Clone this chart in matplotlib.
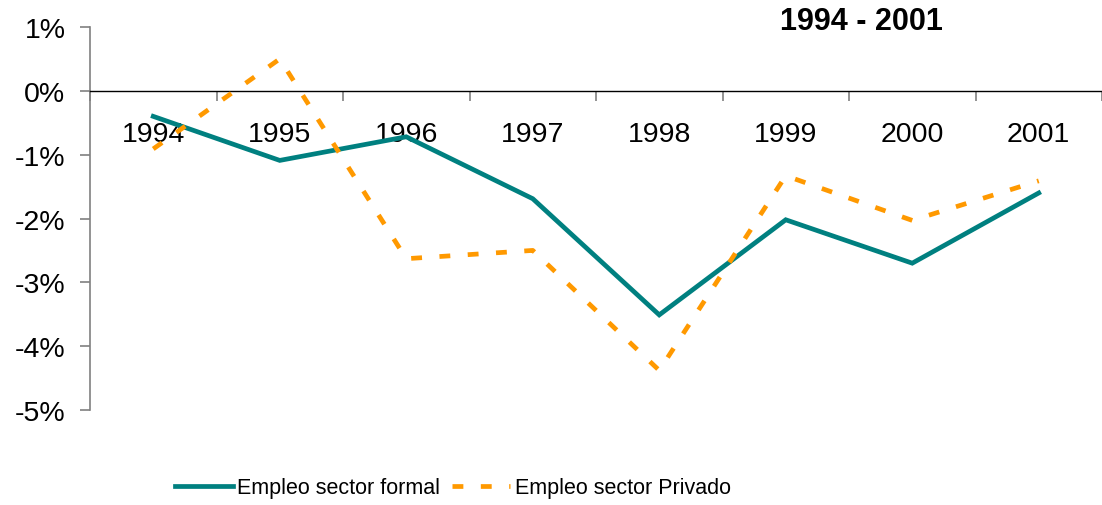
import matplotlib
matplotlib.use("Agg")
import matplotlib.pyplot as plt
import numpy as np

years = ["1994", "1995", "1996", "1997", "1998", "1999", "2000", "2001"]
formal = [-0.40, -1.09, -0.72, -1.69, -3.51, -2.02, -2.70, -1.60]
privado = [-0.91, 0.50, -2.63, -2.50, -4.38, -1.33, -2.03, -1.41]
y_ticks = [1, 0, -1, -2, -3, -4, -5]
title = "1994 - 2001"
labels = ["Empleo sector formal", "Empleo sector Privado"]

plt.rcParams['font.family'] = ['Liberation Sans', 'DejaVu Sans']

W, H = 1102, 506
fig = plt.figure(figsize=(W / 100, H / 100), dpi=100)
ax = fig.add_axes([90 / W, 1 - 411 / H, 1012 / W, 383 / H])

x = np.arange(len(years))
ax.plot(x, formal, color="#008080", lw=3.4, solid_joinstyle="miter", label=labels[0], zorder=3)
ax.plot(x, privado, color="#FF9900", lw=3.4, linestyle=(0, (2.3, 3.7)), dash_capstyle="butt",
        label=labels[1], zorder=3)

ax.set_xlim(-0.5, len(years) - 0.5)
ax.set_ylim(-5, 1)

ax.spines['top'].set_visible(False)
ax.spines['right'].set_visible(False)
ax.spines['bottom'].set_position(('data', 0))
ax.spines['bottom'].set_color('black')
ax.spines['bottom'].set_linewidth(1.0)
ax.spines['left'].set_color('#808080')
ax.spines['left'].set_linewidth(1.2)

ax.set_yticks(y_ticks)
ax.set_yticklabels([f"{v}%" for v in y_ticks], fontsize=20.5)
ax.tick_params(axis='y', direction='out', length=7.2, width=1.2, color='#808080', pad=10.5)

ax.set_xticks(np.arange(-0.5, len(years) - 0.5 + 0.01, 1.0))
ax.set_xticklabels([])
ax.tick_params(axis='x', which='major', direction='out', length=7.2, width=1.2, color='#808080')
ax.set_xticks(x, minor=True)
ax.set_xticklabels(years, minor=True, fontsize=20.5)
ax.tick_params(axis='x', which='minor', length=0, pad=22)

fig.text(861 / W, 1 - 22 / H, title, fontsize=22, fontweight='bold', ha='center', va='center')

leg = fig.legend(loc='center left', bbox_to_anchor=(175 / W, 1 - 489 / H), ncol=2, frameon=False,
                 prop={'size': 15.5},
                 handlelength=2.7, handletextpad=0.2, columnspacing=0.55, borderpad=0, borderaxespad=0)

fig.savefig("out.png", dpi=100)
